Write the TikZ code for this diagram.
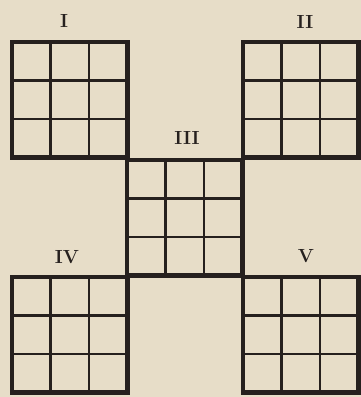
\documentclass[tikz,border=0pt]{standalone}
\usepackage{tikz}
\definecolor{paper_col}{RGB}{231, 221, 200}
\definecolor{ink_col}{RGB}{38, 32, 30}

\begin{document}
\begin{tikzpicture}[
    x=1pt, y=-1pt,
    every node/.style={font=\fontsize{19}{19}\selectfont\bfseries, text=ink_col},
    outer/.style={draw=ink_col, line width=4.5pt},
    inner/.style={draw=ink_col, line width=2.3pt},
]
  \fill[paper_col] (0,0) rectangle (361,397);
  \useasboundingbox (0,0) rectangle (361,397);

  % five squares, each cut in 3x3 cells
  \foreach \gx/\gy/\gn in {12/42/I, 243/42/II, 127/160/III, 12/277/IV, 243/277/V}{
    \foreach \k in {1,2}{
      \draw[inner] (\gx+38.5*\k,\gy) -- (\gx+38.5*\k,\gy+115.5);
      \draw[inner] (\gx,\gy+38.5*\k) -- (\gx+115.5,\gy+38.5*\k);
    }
    \draw[outer] (\gx,\gy) rectangle (\gx+115.5,\gy+115.5);
  }

  \node (lI)   at (64,21)   {I};
  \node (lII)  at (305,22)  {II};
  \node (lIII) at (187,138) {III};
  \node (lIV)  at (67,257)  {IV};
  \node (lV)   at (306,256) {V};
\end{tikzpicture}
\end{document}
